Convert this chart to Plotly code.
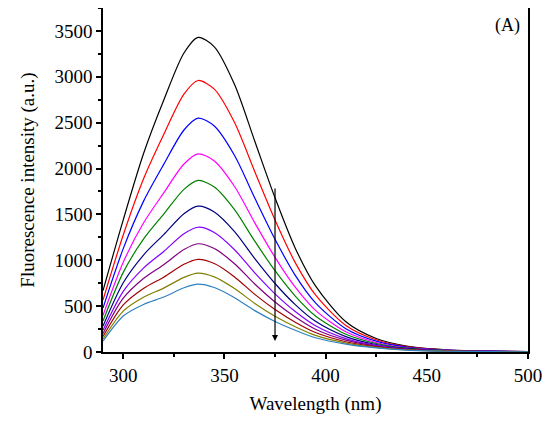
import plotly.graph_objects as go

wavelength = [290, 300, 310, 320, 330, 337, 345, 355, 365, 375, 385, 395, 410, 425, 440, 460, 480, 500]

spectra = [
    [669, 1441, 2161, 2744, 3259, 3430, 3327, 2916, 2298, 1681, 1132, 720, 329, 147, 65, 24, 10, 3],
    [567, 1276, 1886, 2371, 2811, 2960, 2865, 2501, 1965, 1439, 974, 622, 290, 133, 59, 22, 9, 4],
    [479, 1127, 1642, 2045, 2420, 2550, 2463, 2142, 1678, 1229, 836, 536, 254, 118, 53, 20, 9, 4],
    [399, 978, 1406, 1734, 2049, 2160, 2082, 1804, 1408, 1032, 706, 454, 220, 104, 46, 18, 8, 3],
    [338, 868, 1230, 1503, 1773, 1870, 1799, 1552, 1208, 886, 610, 393, 194, 93, 42, 16, 7, 3],
    [282, 755, 1057, 1280, 1507, 1590, 1526, 1312, 1018, 747, 517, 334, 168, 82, 37, 14, 6, 3],
    [237, 661, 914, 1096, 1289, 1360, 1303, 1115, 862, 634, 441, 286, 146, 72, 32, 13, 6, 3],
    [201, 586, 801, 952, 1117, 1180, 1128, 962, 741, 545, 381, 248, 129, 65, 29, 12, 5, 3],
    [169, 513, 693, 816, 956, 1010, 964, 818, 628, 463, 325, 212, 112, 57, 26, 10, 5, 3],
    [141, 446, 596, 696, 814, 860, 819, 692, 530, 390, 276, 181, 97, 50, 23, 9, 4, 2],
    [118, 392, 518, 599, 700, 740, 703, 592, 451, 333, 237, 155, 85, 44, 20, 8, 4, 2],
]

colors = ["#000000", "#ff0000", "#0000ff", "#ff00ff", "#008000", "#000080",
          "#8000ff", "#800080", "#a00000", "#808000", "#3080c0"]

fig = go.Figure()
for ys, c in zip(spectra, colors):
    fig.add_trace(go.Scatter(x=wavelength, y=ys, mode="lines",
                             line=dict(color=c, width=1.2, shape="spline", smoothing=0.8)))

# downward arrow showing the quenching trend
fig.add_annotation(x=375, y=120, ax=375, ay=1800, xref="x", yref="y", axref="x", ayref="y",
                   showarrow=True, arrowhead=2, arrowsize=1, arrowwidth=1.2, arrowcolor="black", text="")
fig.add_annotation(x=0.985, y=0.985, xref="paper", yref="paper", text="(A)", showarrow=False,
                   xanchor="right", yanchor="top", font=dict(size=18))

axis_common = dict(showline=True, linecolor="black", linewidth=1.5, mirror=True, ticks="outside",
                   ticklen=5, tickwidth=1.5, tickcolor="black", showgrid=False, zeroline=False,
                   tickfont=dict(size=19), automargin=False)
fig.update_xaxes(range=[290, 500], dtick=50, title=dict(text="Wavelength (nm)", font=dict(size=19), standoff=12),
                 minor=dict(ticks="outside", ticklen=3, dtick=25, tickcolor="black"), **axis_common)
fig.update_yaxes(range=[0, 3750], dtick=500, title=dict(text="Fluorescence intensity (a.u.)", font=dict(size=19)),
                 minor=dict(ticks="outside", ticklen=3, dtick=250, tickcolor="black"), **axis_common)
# page body has an 8px margin, so the figure is a bit smaller than the window
fig.update_layout(width=542, height=416, showlegend=False, plot_bgcolor="white", paper_bgcolor="white",
                  margin=dict(l=95, r=22, t=0, b=72),
                  font=dict(family="Liberation Serif", color="black"))
fig.write_html("out.html")
